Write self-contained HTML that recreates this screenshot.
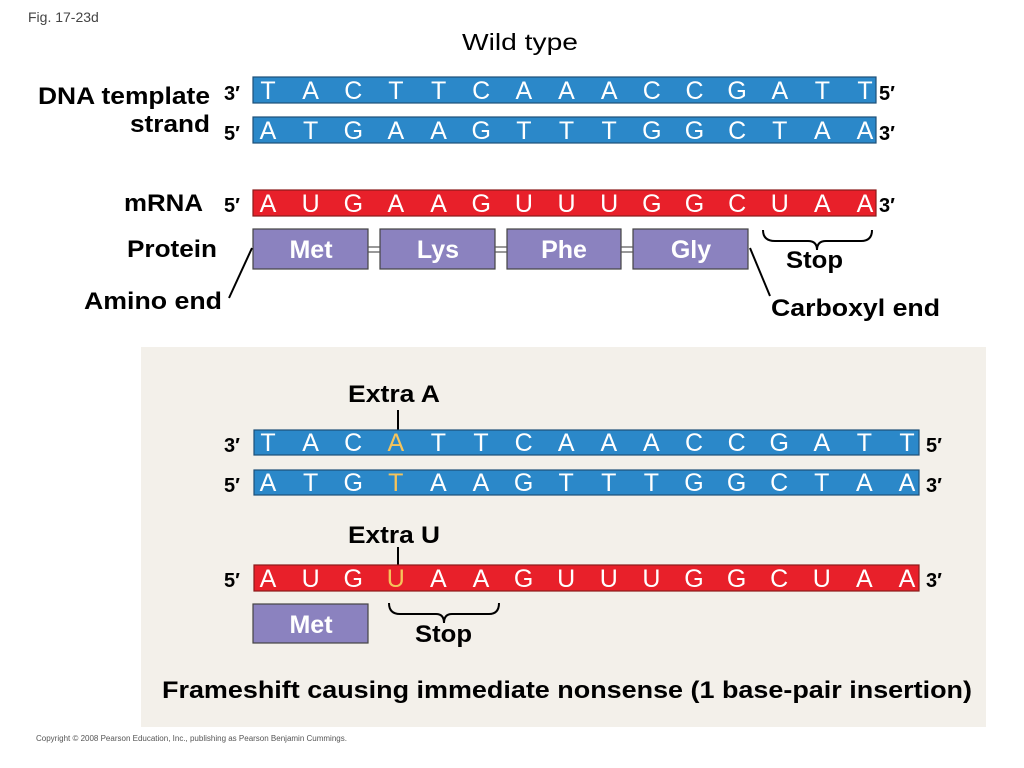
<!DOCTYPE html>
<html><head><meta charset="utf-8"><style>
html,body{margin:0;padding:0;background:#fff;}
svg{display:block;font-family:"Liberation Sans",Arial,sans-serif;}
.b{font-weight:bold;fill:#000;}
.bl{fill:#2b88c9;stroke:#1d4f78;stroke-width:1.2}
.rd{fill:#e8202a;stroke:#8a1a1a;stroke-width:1.2}
.pp{fill:#8b82bf;stroke:#444;stroke-width:1.2}
.l{fill:#fff;font-size:25px;text-anchor:middle}
.y{fill:#f5c45c}
</style></head><body>
<svg width="1024" height="768" viewBox="0 0 1024 768">
<text x="28" y="22" font-size="14" fill="#444">Fig. 17-23d</text>
<text x="462" y="50" font-size="23" textLength="116" lengthAdjust="spacingAndGlyphs">Wild type</text>

<g class="b" font-size="24">
<text x="38" y="104" textLength="172" lengthAdjust="spacingAndGlyphs">DNA template</text>
<text x="130" y="132" textLength="80" lengthAdjust="spacingAndGlyphs">strand</text>
<text x="124" y="211" textLength="79" lengthAdjust="spacingAndGlyphs">mRNA</text>
<text x="127" y="257" textLength="90" lengthAdjust="spacingAndGlyphs">Protein</text>
<text x="84" y="309" textLength="138" lengthAdjust="spacingAndGlyphs">Amino end</text>
</g>

<g font-size="20" class="b">
<text x="224" y="100">3′</text><text x="224" y="140">5′</text><text x="224" y="212">5′</text>
<text x="879" y="100">5′</text><text x="879" y="140">3′</text><text x="879" y="212">3′</text>
</g>
<rect x="253" y="77" width="623" height="26" class="bl"/>
<rect x="253" y="117" width="623" height="26" class="bl"/>
<rect x="253" y="190" width="623" height="26" class="rd"/>
<text class="l" y="99" x="268 310.6 353.3 395.9 438.6 481.2 523.9 566.5 609.2 651.8 694.5 737.1 779.8 822.4 865">TACTTCAAACCGATT</text>
<text class="l" y="139" x="268 310.6 353.3 395.9 438.6 481.2 523.9 566.5 609.2 651.8 694.5 737.1 779.8 822.4 865">ATGAAGTTTGGCTAA</text>
<text class="l" y="212" x="268 310.6 353.3 395.9 438.6 481.2 523.9 566.5 609.2 651.8 694.5 737.1 779.8 822.4 865">AUGAAGUUUGGCUAA</text>

<rect x="253" y="229" width="115" height="40" class="pp"/>
<rect x="380" y="229" width="115" height="40" class="pp"/>
<rect x="507" y="229" width="114" height="40" class="pp"/>
<rect x="633" y="229" width="115" height="40" class="pp"/>
<g stroke="#555" stroke-width="1.2">
<line x1="368" y1="247" x2="380" y2="247"/><line x1="368" y1="252" x2="380" y2="252"/>
<line x1="495" y1="247" x2="507" y2="247"/><line x1="495" y1="252" x2="507" y2="252"/>
<line x1="621" y1="247" x2="633" y2="247"/><line x1="621" y1="252" x2="633" y2="252"/>
</g>
<g class="l" font-weight="bold" font-size="23">
<text x="311" y="258">Met</text><text x="438" y="258">Lys</text><text x="564" y="258">Phe</text><text x="691" y="258">Gly</text>
</g>
<g fill="none" stroke="#000" stroke-width="2">
<path d="M252,248 L229,298"/>
<path d="M750,248 L770,296"/>
<path d="M763,230 Q763,241 775,241 L808,241 Q817,241 817,250 Q817,241 826,241 L861,241 Q872,241 872,230"/>
</g>
<g class="b" font-size="24">
<text x="786" y="268" textLength="57" lengthAdjust="spacingAndGlyphs">Stop</text>
<text x="771" y="316" textLength="169" lengthAdjust="spacingAndGlyphs">Carboxyl end</text>
</g>

<rect x="141" y="347" width="845" height="380" fill="#f3f0ea"/>
<g class="b" font-size="24">
<text x="348" y="402" textLength="92" lengthAdjust="spacingAndGlyphs">Extra A</text>
<text x="348" y="543" textLength="92" lengthAdjust="spacingAndGlyphs">Extra U</text>
</g>
<line x1="398" y1="410" x2="398" y2="430" stroke="#000" stroke-width="2"/>
<line x1="398" y1="547" x2="398" y2="565" stroke="#000" stroke-width="2"/>
<g font-size="20" class="b">
<text x="224" y="452">3′</text><text x="224" y="492">5′</text><text x="224" y="587">5′</text>
<text x="926" y="452">5′</text><text x="926" y="492">3′</text><text x="926" y="587">3′</text>
</g>
<rect x="254" y="430" width="665" height="25" class="bl"/>
<rect x="254" y="470" width="665" height="25" class="bl"/>
<rect x="254" y="565" width="665" height="26" class="rd"/>
<text class="l" y="451"><tspan x="268 310.6 353.2">TAC</tspan><tspan class="y" x="395.8">A</tspan><tspan x="438.4 481 523.6 566.2 608.8 651.4 694 736.6 779.2 821.8 864.4 907">TTCAAACCGATT</tspan></text>
<text class="l" y="491"><tspan x="268 310.6 353.2">ATG</tspan><tspan class="y" x="395.8">T</tspan><tspan x="438.4 481 523.6 566.2 608.8 651.4 694 736.6 779.2 821.8 864.4 907">AAGTTTGGCTAA</tspan></text>
<text class="l" y="587"><tspan x="268 310.6 353.2">AUG</tspan><tspan class="y" x="395.8">U</tspan><tspan x="438.4 481 523.6 566.2 608.8 651.4 694 736.6 779.2 821.8 864.4 907">AAGUUUGGCUAA</tspan></text>
<rect x="253" y="604" width="115" height="39" class="pp"/>
<text x="311" y="633" class="l" font-weight="bold" font-size="23">Met</text>
<path d="M389,603 Q389,614 400,614 L436,614 Q444,614 444,623 Q444,614 452,614 L489,614 Q499,614 499,603" fill="none" stroke="#000" stroke-width="2"/>
<g class="b" font-size="24">
<text x="415" y="642" textLength="57" lengthAdjust="spacingAndGlyphs">Stop</text>
<text x="162" y="698" textLength="810" lengthAdjust="spacingAndGlyphs">Frameshift causing immediate nonsense (1 base-pair insertion)</text>
</g>
<text x="36" y="741" font-size="8" fill="#555">Copyright © 2008 Pearson Education, Inc., publishing as Pearson Benjamin Cummings.</text>
</svg>
</body></html>
